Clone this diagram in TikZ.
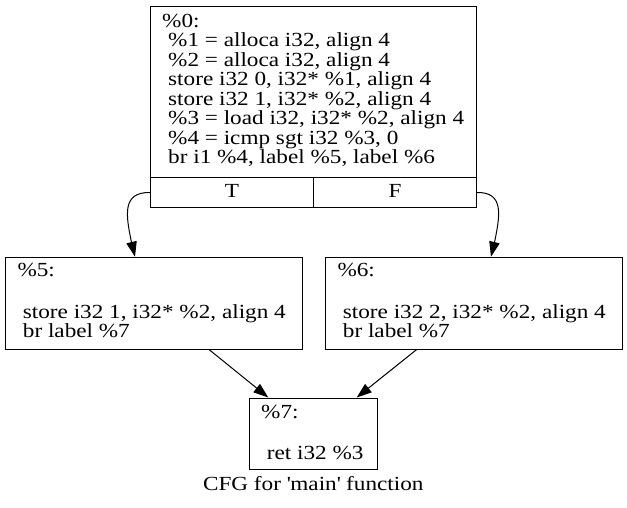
\documentclass[tikz,border=0pt]{standalone}
\usepackage{fontspec}
\setmainfont[FakeStretch=1.16]{Liberation Serif}
\usetikzlibrary{arrows.meta,calc}
\begin{document}
\begin{tikzpicture}[x=1pt,y=-1pt,
  box/.style={draw, line width=1pt, rectangle, inner sep=0pt, anchor=north west},
  cell/.style={box, minimum width=163pt, minimum height=30pt, text height=10pt, text depth=0pt, font=\fontsize{20}{19.5}\selectfont},
  ln/.style={anchor=base west, inner sep=0pt, font=\fontsize{20}{19.5}\selectfont},
  edge/.style={line width=1pt, -{Triangle[length=15pt,width=10.5pt]}}]
\fill[white] (0,0) rectangle (627,507);
\useasboundingbox (0,0) rectangle (627,507);
% top block
\node[box, minimum width=326pt, minimum height=171pt] (b0) at (150,6) {};
\node[cell] (T) at (150,177) {T};
\node[cell] (F) at (313,177) {F};
\node[ln] (l0) at (162,27) {\%0:};
\node[ln] (l1) at (168,46.5) {\%1 = alloca i32, align 4};
\node[ln] (l2) at (168,66) {\%2 = alloca i32, align 4};
\node[ln] (l3) at (168,85.5) {store i32 0, i32* \%1, align 4};
\node[ln] (l4) at (168,105) {store i32 1, i32* \%2, align 4};
\node[ln] (l5) at (168,124.5) {\%3 = load i32, i32* \%2, align 4};
\node[ln] (l6) at (168,144) {\%4 = icmp sgt i32 \%3, 0};
\node[ln] (l7) at (168,163.5) {br i1 \%4, label \%5, label \%6};
% %5
\node[box, minimum width=296.5pt, minimum height=91.8pt] (b5) at (5,256.7) {};
\node[ln] (m0) at (17.3,276.3) {\%5:};
\node[ln] (m1) at (22.7,318.3) {store i32 1, i32* \%2, align 4};
\node[ln] (m2) at (22.7,337.6) {br label \%7};
% %6
\node[box, minimum width=296.5pt, minimum height=91.8pt] (b6) at (325,256.7) {};
\node[ln] (n0) at (337.3,276.3) {\%6:};
\node[ln] (n1) at (342.7,318.3) {store i32 2, i32* \%2, align 4};
\node[ln] (n2) at (342.7,337.6) {br label \%7};
% %7
\node[box, minimum width=127.4pt, minimum height=71.8pt] (b7) at (249.3,397.5) {};
\node[ln] (k0) at (261,418.3) {\%7:};
\node[ln] (k1) at (266.7,459.3) {ret i32 \%3};
% caption
\node[anchor=base, inner sep=0pt, font=\fontsize{20}{19.5}\selectfont] (cap) at (313.3,490.7) {CFG for \textquotesingle main\textquotesingle{} function};
% edges
\draw[edge] (T.west) .. controls (122,192) and (126,215) .. (131,240) -- ($(b5.north west)+(130,0)$);
\draw[edge] (F.east) .. controls (504,192) and (500,215) .. (495,240) -- ($(b6.north west)+(166,0)$);
\draw[edge] ($(b5.south west)+(204,0)$) -- ($(b7.north west)+(19,0)$);
\draw[edge] ($(b6.south west)+(91.7,0)$) -- ($(b7.north west)+(107.4,0)$);
\end{tikzpicture}
\end{document}
